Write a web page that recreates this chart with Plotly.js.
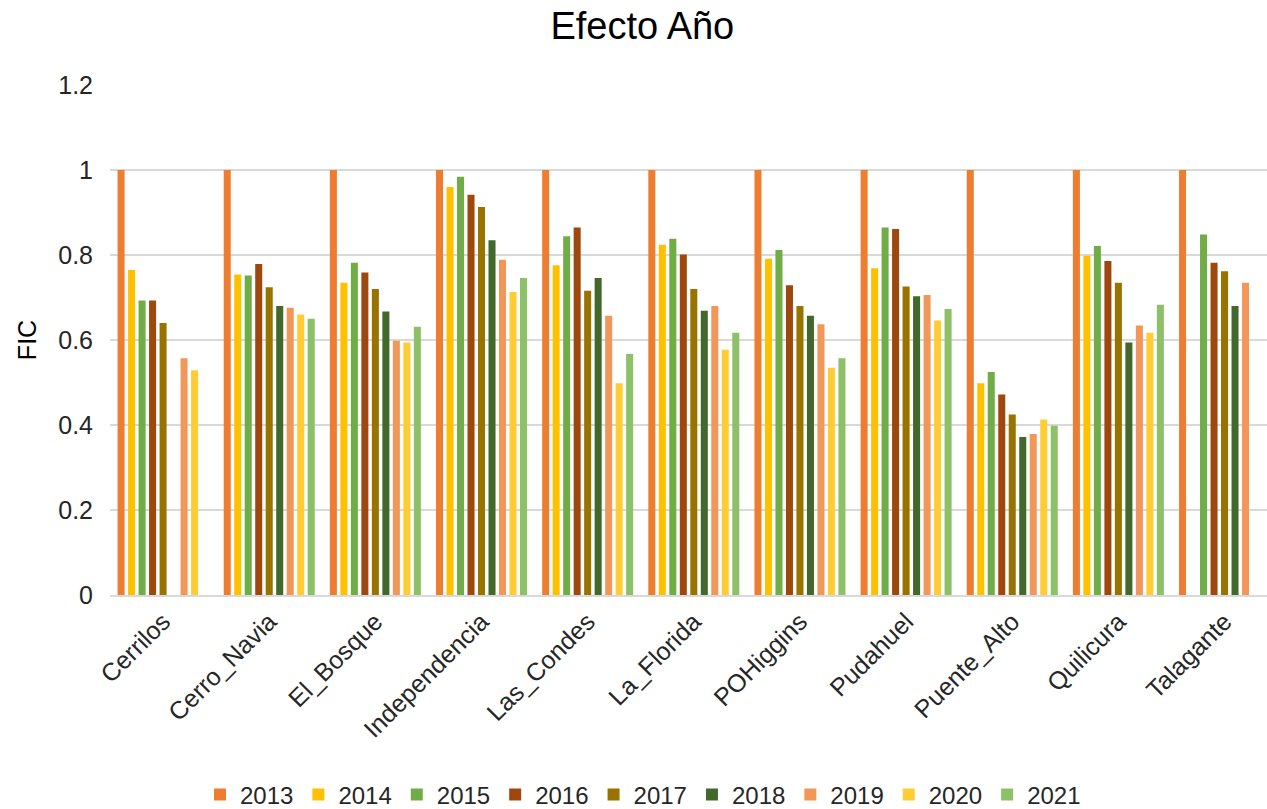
<!DOCTYPE html>
<html>
<head>
<meta charset="utf-8">
<script src="https://cdn.plot.ly/plotly-3.0.1.min.js"></script>
<style>html,body{margin:0;padding:0;background:#fff;overflow:hidden;}</style>
</head>
<body>
<div id="chart" style="width:1267px;height:809px;"></div>
<script>
const comunas = ["Cerrilos","Cerro_Navia","El_Bosque","Independencia","Las_Condes","La_Florida","POHiggins","Pudahuel","Puente_Alto","Quilicura","Talagante"];
const years = ["2013","2014","2015","2016","2017","2018","2019","2020","2021"];

const v2013 = [1, 1, 1, 1, 1, 1, 1, 1, 1, 1, 1];
const v2014 = [0.765, 0.754, 0.735, 0.960, 0.776, 0.824, 0.791, 0.769, 0.498, 0.798, null];
const v2015 = [0.693, 0.752, 0.782, 0.984, 0.844, 0.838, 0.812, 0.865, 0.525, 0.821, 0.848];
const v2016 = [0.693, 0.779, 0.759, 0.942, 0.865, 0.801, 0.729, 0.861, 0.472, 0.786, 0.782];
const v2017 = [0.640, 0.724, 0.720, 0.913, 0.716, 0.720, 0.680, 0.726, 0.425, 0.735, 0.762];
const v2018 = [null, 0.680, 0.667, 0.835, 0.746, 0.669, 0.657, 0.703, 0.372, 0.594, 0.680];
const v2019 = [0.557, 0.676, 0.598, 0.789, 0.657, 0.680, 0.637, 0.706, 0.379, 0.634, 0.735];
const v2020 = [0.529, 0.660, 0.594, 0.713, 0.498, 0.577, 0.535, 0.646, 0.413, 0.617, null];
const v2021 = [null, 0.650, 0.631, 0.746, 0.567, 0.617, 0.557, 0.673, 0.398, 0.683, null];

const series = [v2013, v2014, v2015, v2016, v2017, v2018, v2019, v2020, v2021];
const colors = ["#ED7D31","#FFC000","#70AD47","#9E480E","#997300","#43682B","#F1975A","#FFCD33","#8CC168"];

const traces = series.map((vals, i) => ({
  type: "bar",
  name: years[i],
  x: comunas,
  y: vals,
  marker: {color: colors[i]},
  hoverinfo: "x+y+name"
}));

const font = "Arial, 'Liberation Sans', sans-serif";

const layout = {
  width: 1267,
  height: 809,
  margin: {l: 110, r: 0, t: 85, b: 214},
  paper_bgcolor: "#ffffff",
  plot_bgcolor: "#ffffff",
  font: {family: font, color: "#262626", size: 25},
  title: {
    text: "Efecto Año",
    font: {family: font, size: 38, color: "#000000"},
    xref: "container", x: 0.507, xanchor: "center",
    yref: "container", y: 0.968, yanchor: "middle"
  },
  barmode: "group",
  bargap: 0.11,
  bargroupgap: 0.33,
  xaxis: {
    type: "category",
    range: [-0.5, 10.4],
    tickangle: -45,
    tickfont: {family: font, size: 25, color: "#262626"},
    showgrid: false,
    showline: true,
    linecolor: "#d9d9d9",
    linewidth: 2,
    ticks: "",
    automargin: false
  },
  yaxis: {
    range: [0, 1.2],
    tickvals: [0, 0.2, 0.4, 0.6, 0.8, 1, 1.2],
    ticktext: ["0", "0.2", "0.4", "0.6", "0.8", "1", "1.2"],
    tickfont: {family: font, size: 25, color: "#262626"},
    showgrid: true,
    gridcolor: "#d9d9d9",
    gridwidth: 2,
    zeroline: false,
    ticks: "",
    ticklabelstandoff: 16,
    title: {text: "FIC", font: {family: font, size: 25, color: "#000000"}, standoff: 14},
    automargin: false
  },
  showlegend: true,
  legend: {
    orientation: "h",
    xref: "container", x: 0.5075, xanchor: "center",
    yref: "container", y: 0.0173, yanchor: "middle",
    font: {family: font, size: 24, color: "#262626"},
    itemwidth: 30,
    traceorder: "normal"
  }
};

Plotly.newPlot("chart", traces, layout, {displayModeBar: false, responsive: false});
</script>
</body>
</html>
